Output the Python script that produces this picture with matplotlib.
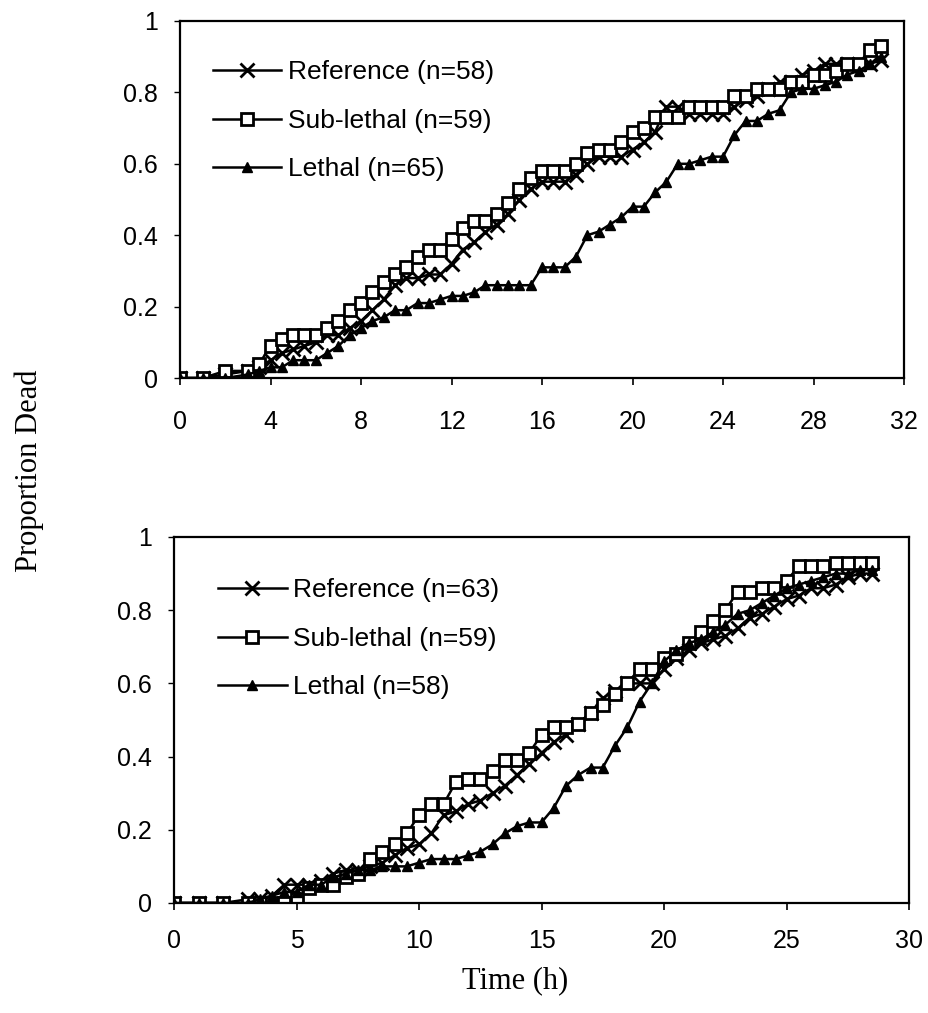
import matplotlib
matplotlib.use("Agg")
import matplotlib.pyplot as plt
from matplotlib.ticker import FuncFormatter

# top experiment
t_top = [0, 1, 2, 3, 3.5, 4, 4.5, 5, 5.5, 6, 6.5, 7, 7.5, 8, 8.5, 9, 9.5, 10, 10.5, 11,
         11.5, 12, 12.5, 13, 13.5, 14, 14.5, 15, 15.5, 16, 16.5, 17, 17.5, 18, 18.5, 19,
         19.5, 20, 20.5, 21, 21.5, 22, 22.5, 23, 23.5, 24, 24.5, 25, 25.5, 26, 26.5, 27,
         27.5, 28, 28.5, 29, 29.5, 30, 30.5, 31]
ref_top = [0, 0, 0.01, 0.02, 0.03, 0.05, 0.07, 0.08, 0.09, 0.10, 0.12, 0.12, 0.14, 0.16,
           0.19, 0.22, 0.26, 0.28, 0.28, 0.29, 0.29, 0.32, 0.36, 0.38, 0.41, 0.43, 0.46,
           0.50, 0.53, 0.55, 0.55, 0.55, 0.57, 0.60, 0.62, 0.62, 0.62, 0.64, 0.66, 0.69,
           0.76, 0.76, 0.74, 0.74, 0.74, 0.74, 0.76, 0.78, 0.79, 0.81, 0.83, 0.83, 0.85,
           0.86, 0.88, 0.88, 0.88, 0.88, 0.88, 0.89]
sub_top = [0, 0, 0.02, 0.02, 0.04, 0.09, 0.11, 0.12, 0.12, 0.12, 0.14, 0.16, 0.19, 0.21,
           0.24, 0.27, 0.29, 0.31, 0.34, 0.36, 0.36, 0.39, 0.42, 0.44, 0.44, 0.46, 0.49,
           0.53, 0.56, 0.58, 0.58, 0.58, 0.60, 0.63, 0.64, 0.64, 0.66, 0.69, 0.70, 0.73,
           0.73, 0.73, 0.76, 0.76, 0.76, 0.76, 0.79, 0.79, 0.81, 0.81, 0.81, 0.83, 0.83,
           0.85, 0.85, 0.86, 0.88, 0.88, 0.92, 0.93]
leth_top = [0, 0, 0, 0.01, 0.02, 0.03, 0.03, 0.05, 0.05, 0.05, 0.07, 0.09, 0.12, 0.14,
            0.16, 0.17, 0.19, 0.19, 0.21, 0.21, 0.22, 0.23, 0.23, 0.24, 0.26, 0.26, 0.26,
            0.26, 0.26, 0.31, 0.31, 0.31, 0.34, 0.40, 0.41, 0.43, 0.45, 0.48, 0.48, 0.52,
            0.55, 0.60, 0.60, 0.61, 0.62, 0.62, 0.68, 0.72, 0.72, 0.74, 0.75, 0.80, 0.81,
            0.81, 0.82, 0.83, 0.85, 0.86, 0.88, 0.90]

# bottom experiment
t_bot = [0, 1, 2, 3, 3.5, 4, 4.5, 5, 5.5, 6, 6.5, 7, 7.5, 8, 8.5, 9, 9.5, 10, 10.5, 11,
         11.5, 12, 12.5, 13, 13.5, 14, 14.5, 15, 15.5, 16, 16.5, 17, 17.5, 18, 18.5, 19,
         19.5, 20, 20.5, 21, 21.5, 22, 22.5, 23, 23.5, 24, 24.5, 25, 25.5, 26, 26.5, 27,
         27.5, 28, 28.5]
ref_bot = [0, 0, 0, 0.01, 0.01, 0.02, 0.05, 0.05, 0.05, 0.06, 0.08, 0.09, 0.09, 0.10,
           0.11, 0.13, 0.15, 0.16, 0.19, 0.24, 0.25, 0.27, 0.28, 0.30, 0.32, 0.35, 0.38,
           0.41, 0.44, 0.46, 0.49, 0.52, 0.56, 0.58, 0.60, 0.60, 0.60, 0.64, 0.67, 0.69,
           0.71, 0.72, 0.73, 0.75, 0.78, 0.79, 0.81, 0.83, 0.84, 0.86, 0.86, 0.87, 0.89,
           0.90, 0.90]
sub_bot = [0, 0, 0, 0, 0, 0, 0, 0.01, 0.04, 0.05, 0.05, 0.07, 0.08, 0.12, 0.14, 0.16,
           0.19, 0.24, 0.27, 0.27, 0.33, 0.34, 0.34, 0.36, 0.39, 0.39, 0.41, 0.46, 0.48,
           0.48, 0.49, 0.52, 0.54, 0.57, 0.60, 0.64, 0.64, 0.67, 0.68, 0.71, 0.74, 0.77,
           0.80, 0.85, 0.85, 0.86, 0.86, 0.88, 0.92, 0.92, 0.92, 0.93, 0.93, 0.93, 0.93]
leth_bot = [0, 0, 0, 0, 0.01, 0.02, 0.03, 0.03, 0.05, 0.05, 0.07, 0.08, 0.09, 0.09, 0.10,
            0.10, 0.10, 0.11, 0.12, 0.12, 0.12, 0.13, 0.14, 0.16, 0.19, 0.21, 0.22, 0.22,
            0.26, 0.32, 0.35, 0.37, 0.37, 0.43, 0.48, 0.55, 0.60, 0.66, 0.69, 0.71, 0.72,
            0.74, 0.76, 0.79, 0.80, 0.82, 0.84, 0.86, 0.87, 0.88, 0.89, 0.90, 0.90, 0.91,
            0.91]

labels_top = ['Reference (n=58)', 'Sub-lethal (n=59)', 'Lethal (n=65)']
labels_bot = ['Reference (n=63)', 'Sub-lethal (n=59)', 'Lethal (n=58)']

sans = 'Liberation Sans'
serif = 'Liberation Serif'

fig = plt.figure(figsize=(9.29, 10.13), dpi=100)
ax1 = fig.add_axes([0.1938, 0.6268, 0.7793, 0.3525])
ax2 = fig.add_axes([0.1873, 0.1086, 0.7912, 0.3613])


def draw(ax, t, ref, sub, leth, labels, xmax, xstep, legend_anchor, xpad):
    ax.plot(t, ref, color='black', lw=1.8, marker='x', ms=10, mew=2.0, label=labels[0])
    ax.plot(t, sub, color='black', lw=1.8, marker='s', ms=9, mew=2.0,
            mfc='white', mec='black', label=labels[1])
    ax.plot(t, leth, color='black', lw=1.8, marker='^', ms=7.5, mew=1.0, label=labels[2])
    ax.set_xlim(0, xmax)
    ax.set_ylim(0, 1)
    ax.set_xticks(list(range(0, xmax + 1, xstep)))
    ax.set_yticks([0, 0.2, 0.4, 0.6, 0.8, 1])
    ax.yaxis.set_major_formatter(FuncFormatter(lambda v, p: '%g' % v))
    for s in ax.spines.values():
        s.set_linewidth(1.6)
    ax.tick_params(axis='x', direction='out', length=5, width=1.2, pad=xpad, labelsize=18)
    ax.tick_params(axis='y', direction='out', length=4, width=1.0, pad=12, labelsize=18)
    for lab in ax.get_xticklabels() + ax.get_yticklabels():
        lab.set_fontfamily(sans)
    leg = ax.legend(loc='upper left', bbox_to_anchor=legend_anchor, frameon=False,
                    prop={'family': sans, 'size': 19}, handlelength=2.6,
                    handletextpad=0.25, labelspacing=0.93, borderpad=0, borderaxespad=0)
    return leg


draw(ax1, t_top, ref_top, sub_top, leth_top, labels_top, 32, 4, (0.045, 0.89), 18)
draw(ax2, t_bot, ref_bot, sub_bot, leth_bot, labels_bot, 30, 5, (0.06, 0.887), 14)

fig.text(0.032, 0.535, 'Proportion Dead', rotation=90, ha='center', va='center',
         fontfamily=serif, fontsize=22)
fig.text(0.555, 0.032, 'Time (h)', ha='center', va='center', fontfamily=serif, fontsize=22)

fig.savefig('out.png', dpi=100)
